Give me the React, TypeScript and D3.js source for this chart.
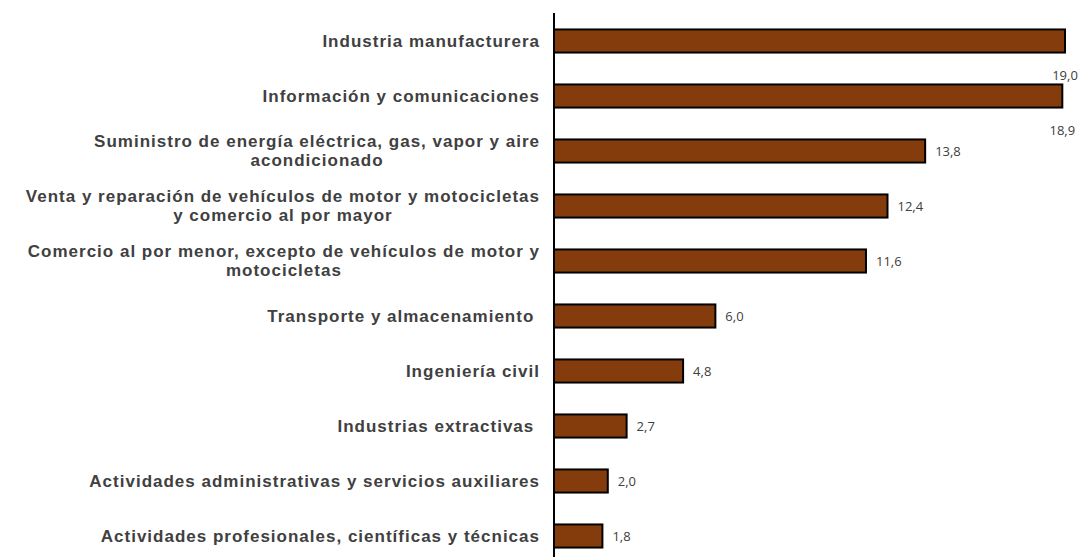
import React from "react";
import * as d3 from "d3";

const categories = [
  "Industria manufacturera",
  "Información y comunicaciones",
  "Suministro de energía eléctrica, gas, vapor y aire\nacondicionado",
  "Venta y reparación de vehículos de motor y motocicletas\ny comercio al por mayor",
  "Comercio al por menor, excepto de vehículos de motor y\nmotocicletas",
  "Transporte y almacenamiento ",
  "Ingeniería civil",
  "Industrias extractivas ",
  "Actividades administrativas y servicios auxiliares",
  "Actividades profesionales, científicas y técnicas",
];
const values = [19.0, 18.9, 13.8, 12.4, 11.6, 6.0, 4.8, 2.7, 2.0, 1.8];

const W = 1081;
const H = 557;
const axisX = 554;
const labelRight = 540;
const labelFont = "'Liberation Sans', Arial, sans-serif";
const labelSize = 17;
const labelSpacing = 1.0;
const valueFont = "'Open Sans', 'Noto Sans', sans-serif";

let ctx: CanvasRenderingContext2D | null = null;
function measure(s: string): number {
  if (typeof document === "undefined") return s.length * 9;
  if (!ctx) ctx = document.createElement("canvas").getContext("2d");
  if (!ctx) return s.length * 9;
  ctx.font = `bold ${labelSize}px ${labelFont}`;
  return ctx.measureText(s).width + s.length * labelSpacing;
}

export default function App() {
  const x = d3.scaleLinear().domain([0, 19]).range([axisX, 1065]);
  const y = d3
    .scaleBand<string>()
    .domain(categories)
    .range([13.5, 563.5])
    .paddingInner(0.58)
    .paddingOuter(0.29);
  const fmt = (v: number) => d3.format(".1f")(v).replace(".", ",");
  const bh = y.bandwidth();
  return (
    <svg
      width={W}
      height={H}
      style={{ position: "absolute", left: 0, top: 0, background: "#fff" }}
    >
      {categories.map((c, i) => {
        const y0 = y(c)!;
        const cy = y0 + bh / 2;
        const lines = c.split("\n");
        const lh = 19;
        const multi = lines.length > 1;
        const blockW = Math.max(...lines.map(measure));
        const cx = labelRight - blockW / 2;
        const v = values[i];
        const xe = x(v);
        const overflow = xe + 40 > W;
        return (
          <g key={c}>
            <rect
              x={axisX}
              y={y0}
              width={xe - axisX}
              height={bh}
              fill="#843C0C"
              stroke="#000"
              strokeWidth={2}
            />
            <text
              fontFamily={labelFont}
              fontWeight="bold"
              fontSize={labelSize}
              letterSpacing={labelSpacing}
              fill="#404040"
              textAnchor={multi ? "middle" : "end"}
              style={{ whiteSpace: "pre" }}
            >
              {lines.map((l, j) => (
                <tspan
                  key={j}
                  x={multi ? cx : labelRight}
                  y={cy + (j - (lines.length - 1) / 2) * lh}
                  dy="0.35em"
                >
                  {l}
                </tspan>
              ))}
            </text>
            <text
              x={overflow ? xe : xe + 10}
              y={overflow ? cy + 34 : cy}
              dy="0.35em"
              fontFamily={valueFont}
              fontSize={13}
              fill="#404040"
              textAnchor={overflow ? "middle" : "start"}
            >
              {fmt(v)}
            </text>
          </g>
        );
      })}
      <line x1={axisX} x2={axisX} y1={13} y2={H} stroke="#000" strokeWidth={2} />
    </svg>
  );
}
